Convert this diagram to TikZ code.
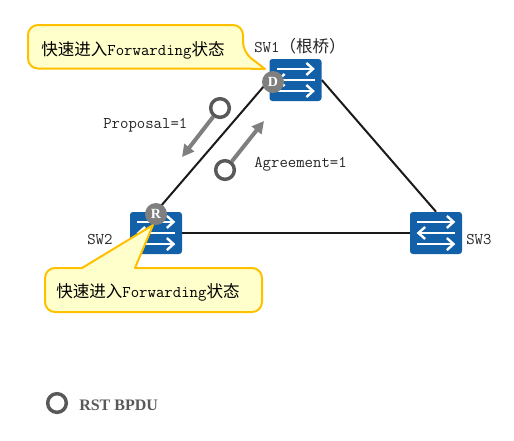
\documentclass[tikz,border=0pt]{standalone}
\usepackage{fontspec}
\newfontfamily\cjk{Noto Sans CJK SC}
\newfontfamily\serifb{Liberation Serif}
\usetikzlibrary{arrows.meta,backgrounds}
\definecolor{swblue}{HTML}{1160A8}
\definecolor{badgegray}{HTML}{7F7F7F}
\definecolor{ringgray}{HTML}{595959}
\definecolor{calloutfill}{HTML}{FFFFCC}
\definecolor{calloutline}{HTML}{FFC000}
\definecolor{linkdark}{HTML}{1A1A1A}
\newcommand{\cjktext}[1]{{\cjk\fontsize{12.4}{14}\selectfont #1}}
\tikzset{
  x=0.75pt,y=-0.75pt,
  switchbox/.style={draw=none,fill=swblue,rounded corners=2.2pt,minimum width=39pt,minimum height=31.5pt,inner sep=0pt},
  link/.style={draw=linkdark,line width=1.5pt},
  label/.style={inner sep=0pt,font=\ttfamily\fontsize{12.25}{14}\selectfont,text=black!85},
  badge/.style={circle,fill=badgegray,minimum size=16.5pt,inner sep=0pt,text=white,font=\serifb\bfseries\fontsize{10.5}{10}\selectfont},
  ring/.style={circle,draw=ringgray,fill=white,line width=2.6pt,minimum size=14pt,inner sep=0pt},
  flow/.style={draw=badgegray,line width=3pt,-{Triangle[length=9pt,width=9pt]},shorten >=0pt},
  callout/.style={draw=calloutline,fill=calloutfill,line width=1.5pt,line join=round},
  calloutlabel/.style={inner sep=0pt,font=\ttfamily\fontsize{12.25}{14}\selectfont,text=black},
  iconarrow/.style={draw=white,line width=1.8pt,-{Straight Barb[length=5pt,width=9pt,line width=1.8pt]}},
}
\newcommand{\switchicon}[1]{%
  \draw[iconarrow] ([xshift=-14pt,yshift=8.3pt]#1.center) -- ([xshift=14.5pt,yshift=8.3pt]#1.center);
  \draw[iconarrow] ([xshift=14.5pt]#1.center) -- ([xshift=-14.5pt]#1.center);
  \draw[iconarrow] ([xshift=-14pt,yshift=-8.3pt]#1.center) -- ([xshift=14.5pt,yshift=-8.3pt]#1.center);
}
\begin{document}
\begin{tikzpicture}
\useasboundingbox (0,0) rectangle (514,440);
% switches
\node[switchbox] (sw1) at (295.5,80) {};
\node[switchbox] (sw2) at (156,233) {};
\node[switchbox] (sw3) at (436,233) {};
\switchicon{sw1}
\switchicon{sw2}
\switchicon{sw3}
\begin{scope}[on background layer]
  \draw[link] (sw1.west) -- (sw2.north);
  \draw[link] (sw1.east) -- (sw3.north);
  \draw[link] (sw2.east) -- (sw3.west);
\end{scope}
% labels
\node[label,anchor=west] (sw1l) at (254,46) {SW1\cjktext{（根桥）}};
\node[label,anchor=west] (sw2l) at (87,240) {SW2};
\node[label,anchor=west] (sw3l) at (466,240) {SW3};
\node[label,anchor=west] (prop) at (103,125) {Proposal=1};
\node[label,anchor=west] (agr) at (254,164) {Agreement=1};
% BPDU flows
\node[ring] (r1) at (220,108) {};
\node[ring] (r2) at (225,170) {};
\coordinate (r1end) at (182,157);
\coordinate (r2end) at (264,121);
\begin{scope}[on background layer]
  \draw[flow] (r1) -- (r1end);
  \draw[flow] (r2) -- (r2end);
\end{scope}
% callouts
\coordinate (tip1) at (265,69);
\draw[callout] [rounded corners=7.5pt] (100,25) -- (243,25) -- (243,52) [sharp corners] -- (tip1) -- (238,68.5)
  [rounded corners=7.5pt] -- (28,68.5) -- (28,25) -- cycle;
\node[calloutlabel,anchor=west] (c1) at (41,50) {\cjktext{快速进入}Forwarding\cjktext{状态}};
\coordinate (tip2) at (153,225);
\draw[callout] (82,268) -- (tip2) -- (135,268)
  [rounded corners=7.5pt] -- (262,268) -- (262,312) -- (45,312) -- (45,268) [sharp corners] -- cycle;
\node[calloutlabel,anchor=west] (c2) at (56,292) {\cjktext{快速进入}Forwarding\cjktext{状态}};
% port badges
\node[badge] (d) at (273,82) {\bfseries D};
\node[badge] (rp) at (156,214) {\bfseries R};
% legend
\node[ring] (lr) at (57,403) {};
\node[inner sep=0pt,anchor=west,text=ringgray,font=\serifb\bfseries\fontsize{12}{15}\selectfont] (ll) at (79,405) {RST BPDU};
\end{tikzpicture}
\end{document}
